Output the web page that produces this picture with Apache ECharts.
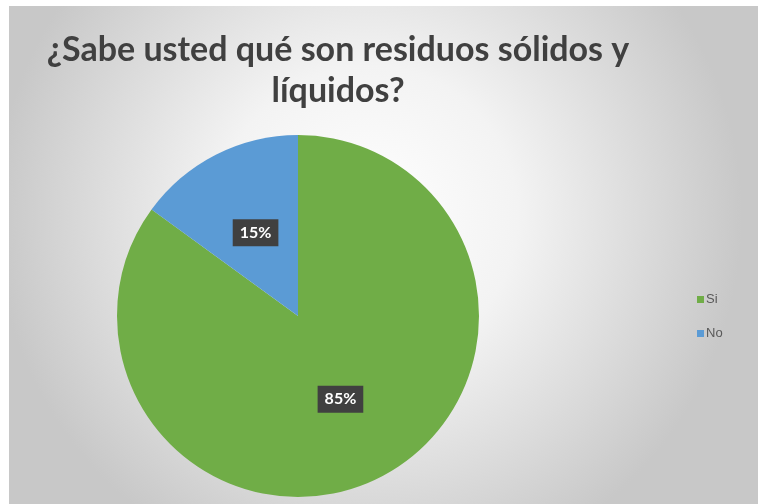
<!DOCTYPE html>
<html>
<head>
<meta charset="utf-8">
<script src="https://cdn.jsdelivr.net/npm/echarts@6/dist/echarts.min.js"></script>
<style>
html,body{margin:0;padding:0;background:#ffffff;width:758px;height:504px;overflow:hidden;}
#c{position:absolute;left:9px;top:6px;width:749px;height:498px;}
</style>
</head>
<body>
<div id="c"></div>
<script>
const titleText = '¿Sabe usted qué son residuos sólidos y\nlíquidos?';
const categories = ['Si', 'No'];
const values = [85, 15];
const colors = ['#70AD47', '#5B9BD5'];

const chart = echarts.init(document.getElementById('c'), null, {renderer: 'canvas'});
chart.setOption({
  animation: false,
  backgroundColor: {
    type: 'radial', x: 0.48, y: 0.42, r: 0.75,
    colorStops: [
      {offset: 0, color: '#ffffff'},
      {offset: 0.4, color: '#f3f3f3'},
      {offset: 1, color: '#c8c8c8'}
    ]
  },
  title: {
    text: titleText,
    left: 324, top: 19, textAlign: 'center',
    textStyle: {fontFamily: 'Lato', fontWeight: 'bold', fontSize: 34, lineHeight: 41, color: '#404040'}
  },
  legend: {
    orient: 'vertical', left: 683, top: 282, itemGap: 21,
    itemWidth: 7, itemHeight: 7, icon: 'rect',
    data: categories,
    textStyle: {fontFamily: 'Liberation Sans Narrow, Liberation Sans', fontSize: 13, color: '#595959', padding: [0, 0, 0, -3]}
  },
  series: [{
    type: 'pie',
    center: [289, 310],
    radius: [0, 181],
    startAngle: 90,
    clockwise: true,
    color: colors,
    label: {
      show: true, position: 'inside',
      formatter: p => p.value + '%',
      fontFamily: 'Lato', fontWeight: 'bold', fontSize: 16, color: '#ffffff',
      backgroundColor: '#404040', padding: [6, 7, 5, 7]
    },
    labelLine: {show: false},
    itemStyle: {borderWidth: 0},
    emphasis: {disabled: true},
    data: categories.map((n, i) => ({name: n, value: values[i]}))
  }]
});
</script>
</body>
</html>
